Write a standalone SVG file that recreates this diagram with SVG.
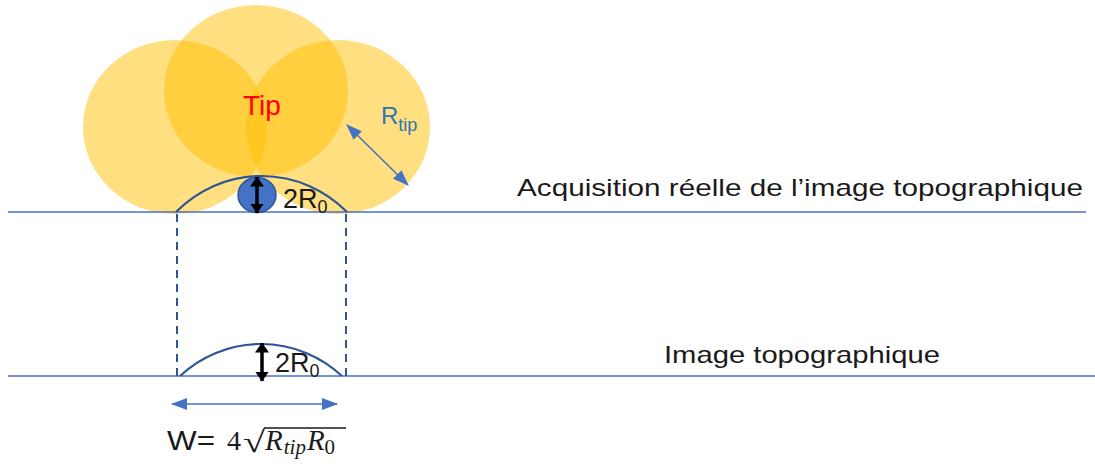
<svg xmlns="http://www.w3.org/2000/svg" width="1095" height="466" viewBox="0 0 1095 466">
<style>
.lbl{font-family:"Liberation Sans",Arial,sans-serif;fill:#1a1a1a}
.ball{fill:#FFC000;fill-opacity:0.5}
.base{stroke:#4472C4;stroke-width:1.3;fill:none}
.arc{stroke:#2F5597;stroke-width:2.2;fill:none}
.dash{stroke:#2F5597;stroke-width:2;stroke-dasharray:8,6;fill:none}
.math{font-family:"Liberation Serif","Times New Roman",serif;font-style:italic;fill:#1a1a1a}
</style>
<defs>
<marker id="bh" viewBox="0 0 16 12" refX="15" refY="6" markerWidth="16" markerHeight="12" orient="auto-start-reverse" markerUnits="userSpaceOnUse"><path d="M0,0 L16,6 L0,12 z" fill="#4472C4"/></marker>
<marker id="kh" viewBox="0 0 10 14" refX="9.5" refY="7" markerWidth="10" markerHeight="14" orient="auto-start-reverse" markerUnits="userSpaceOnUse"><path d="M0,0 L10,7 L0,14 z" fill="#000"/></marker>
</defs>
<rect width="1095" height="466" fill="#fff"/>
<g id="tip">
<ellipse class="ball" cx="175" cy="127" rx="92" ry="87"/>
<ellipse class="ball" cx="338" cy="127" rx="92" ry="87"/>
<ellipse class="ball" cx="256" cy="91" rx="92" ry="86"/>
<text x="243" y="115" font-family="Liberation Sans,Arial,sans-serif" font-size="28" fill="#FF0000">Tip</text>
</g>
<g id="baselines">
<line class="base" x1="8" y1="212" x2="1086" y2="212"/>
<line class="base" x1="8" y1="376" x2="1095" y2="376"/>
</g>
<g id="real-profile">
<path class="arc" d="M176,212 A119.5,119.5 0 0 1 347,212"/>
<ellipse cx="257" cy="195" rx="19" ry="17.5" fill="#4472C4" stroke="#2F5597" stroke-width="1.5"/>
</g>
<g id="image-profile">
<path class="arc" d="M180,376 A118.5,118.5 0 0 1 342,376"/>
</g>
<g id="connectors">
<line class="dash" x1="177" y1="214" x2="177" y2="376"/>
<line class="dash" x1="346" y1="214" x2="346" y2="376"/>
<line x1="257" y1="177" x2="257" y2="213" stroke="#000" stroke-width="3.5" marker-start="url(#kh)" marker-end="url(#kh)"/>
<line x1="262" y1="343" x2="262" y2="381" stroke="#000" stroke-width="3.5" marker-start="url(#kh)" marker-end="url(#kh)"/>
<line x1="347" y1="125" x2="408" y2="185" stroke="#4472C4" stroke-width="1.5" marker-start="url(#bh)" marker-end="url(#bh)"/>
<line x1="172" y1="404" x2="337" y2="404" stroke="#4472C4" stroke-width="1.5" marker-start="url(#bh)" marker-end="url(#bh)"/>
</g>
<g id="labels">
<text class="lbl" x="283" y="208" font-size="27">2R<tspan font-size="18" dy="5">0</tspan></text>
<text class="lbl" x="275" y="372" font-size="27">2R<tspan font-size="18" dy="5">0</tspan></text>
<text x="381" y="124" font-family="Liberation Sans,Arial,sans-serif" font-size="24" fill="#2E75B6">R<tspan font-size="18" dy="7">tip</tspan></text>
<text class="lbl" x="517" y="196" font-size="24" textLength="566" lengthAdjust="spacingAndGlyphs">Acquisition réelle de l’image topographique</text>
<text class="lbl" x="664" y="363" font-size="24" textLength="276" lengthAdjust="spacingAndGlyphs">Image topographique</text>
<text class="lbl" x="167" y="450" font-size="27" textLength="48" lengthAdjust="spacingAndGlyphs">W=</text>
<text x="227" y="450" font-family="Liberation Serif,serif" font-size="28" fill="#1a1a1a">4</text>
<text x="243" y="452" font-family="Liberation Serif,serif" font-size="30" fill="#1a1a1a" textLength="22" lengthAdjust="spacingAndGlyphs">√</text>
<line x1="264" y1="428" x2="346" y2="428" stroke="#1a1a1a" stroke-width="1.5"/>
<text class="math" x="265" y="450" font-size="29">R<tspan font-size="21" dy="4" dx="1">tip</tspan><tspan dy="-4" dx="1">R</tspan><tspan font-size="21" dy="4" font-style="normal">0</tspan></text>
</g>
</svg>
